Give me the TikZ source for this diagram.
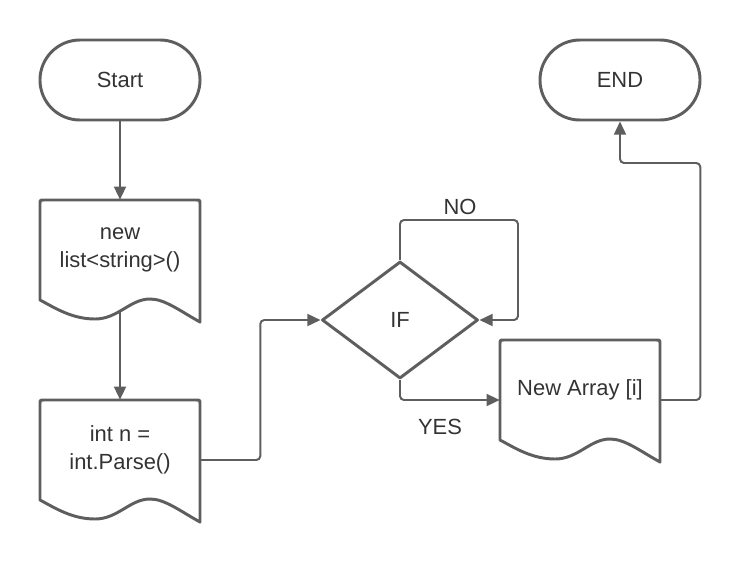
\documentclass[tikz,border=0pt]{standalone}
\usepackage{fontspec}
\setmainfont{Liberation Sans}
\usetikzlibrary{shapes.geometric,arrows.meta}
\definecolor{linegray}{HTML}{5E5E5E}
\definecolor{textgray}{HTML}{333333}
\begin{document}
\begin{tikzpicture}[x=0.025cm,y=-0.025cm,font=\fontsize{15.6pt}{19.6pt}\selectfont,text=textgray]
    \tikzstyle{terminal}=[rectangle,rounded corners=1cm,draw=linegray,line width=2.1pt,minimum width=4cm,minimum height=2cm]
    \tikzstyle{docbox}=[rectangle,align=center,inner sep=0pt,minimum width=4cm,minimum height=2.5cm]
    \tikzstyle{decision}=[diamond,draw=linegray,line width=2.1pt,line join=round,inner sep=0pt,minimum width=3.9cm,minimum height=2.925cm]
    \tikzstyle{docline}=[draw=linegray,line width=2.1pt,line join=round]
    \tikzstyle{flow}=[draw=linegray,line width=1.4pt,rounded corners=0.1cm,-{Triangle[length=0.33cm,width=0.3cm]}]
    \useasboundingbox (0,0) rectangle (742,560);
    \node (start)[terminal] at (120,80) {Start};
    \node (end)[terminal]   at (620,80) {END};
    \node (list)[docbox]    at (120,250) {new\\list<string>()};
    \node (parse)[docbox]   at (120,450) {int n =\\int.Parse()};
    \node (array)[docbox]   at (580,390) {New Array [i]};
    \node (if)[decision]    at (400,320) {IF};
    \node (no)  at (460,207) {NO};
    \node (yes) at (440,427) {YES};
    \draw [docline] (40,300) -- (40,204) .. controls (40,200) .. (44,200) -- (196,200) .. controls (200,200) .. (200,204) -- (200,322) .. controls (180,311) and (165,299) .. (150,299) .. controls (130,299) and (118,319) .. (95,319) .. controls (72,319) and (55,308) .. (40,300) -- cycle;
    \draw [docline] (40,500) -- (40,404) .. controls (40,400) .. (44,400) -- (196,400) .. controls (200,400) .. (200,404) -- (200,522) .. controls (180,511) and (165,499) .. (150,499) .. controls (130,499) and (118,519) .. (95,519) .. controls (72,519) and (55,508) .. (40,500) -- cycle;
    \draw [docline] (500,440) -- (500,344) .. controls (500,340) .. (504,340) -- (656,340) .. controls (660,340) .. (660,344) -- (660,462) .. controls (640,451) and (625,439) .. (610,439) .. controls (590,439) and (578,459) .. (555,459) .. controls (532,459) and (515,448) .. (500,440) -- cycle;
    \draw [flow] (start.south) -- (list.north);
    \draw [flow] ([yshift=-0.25cm]list.south) -- (parse.north);
    \draw [flow] ([yshift=-0.25cm]parse.east) -- ++(60,0) |- (if.west);
    \draw [flow] (if.north) -- ++(0,-40) -- ++(118,0) |- (if.east);
    \draw [flow] (if.south) |- ([yshift=-0.25cm]array.west);
    \draw [flow] ([yshift=-0.25cm]array.east) -- ++(40,0) -- ++(0,-237) -| (end.south);
\end{tikzpicture}
\end{document}
